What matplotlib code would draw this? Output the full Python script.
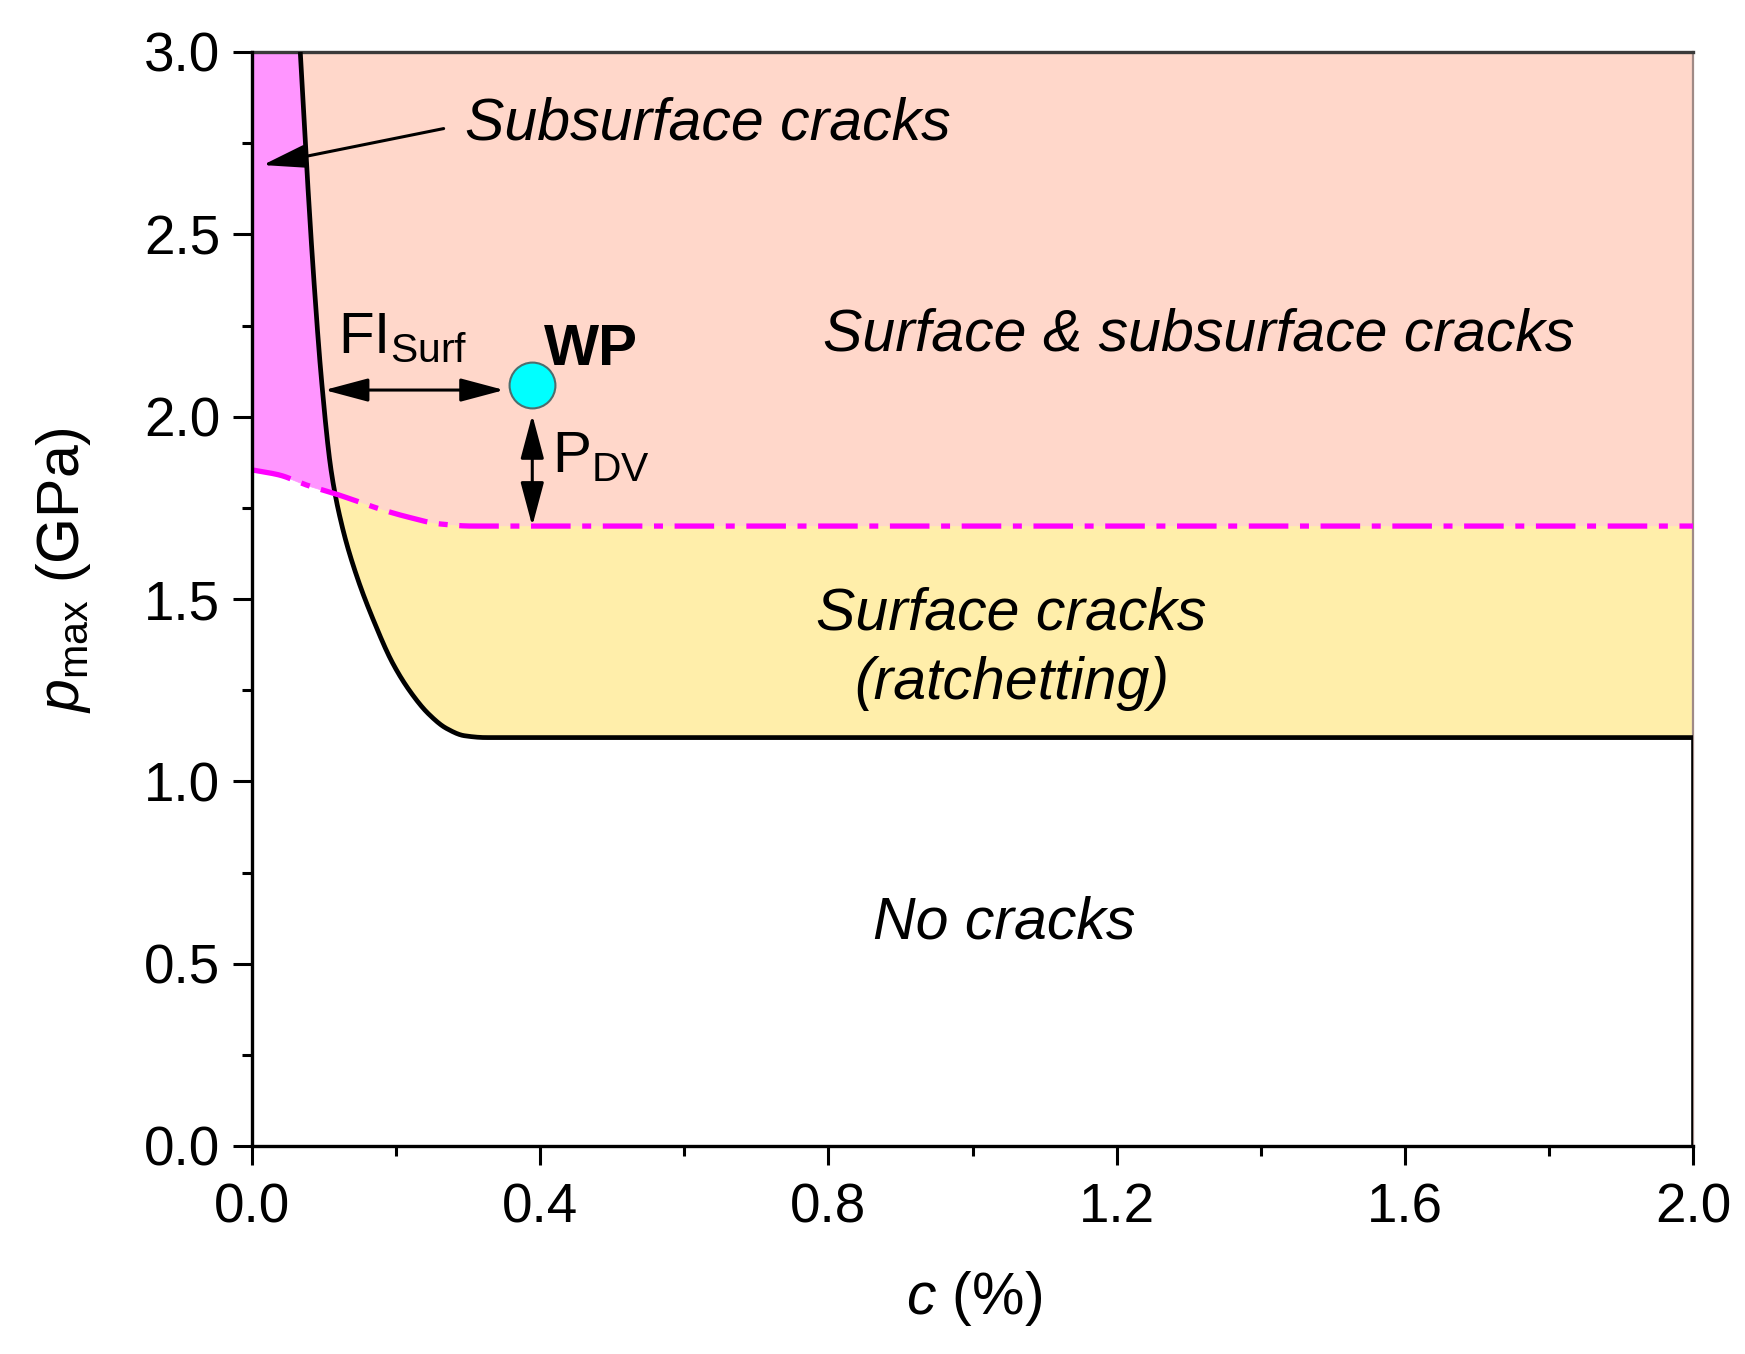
import numpy as np
import matplotlib
matplotlib.use("Agg")
import matplotlib.pyplot as plt
from matplotlib.ticker import MultipleLocator

plt.rcParams['font.family'] = ['Liberation Sans', 'DejaVu Sans']
plt.rcParams['mathtext.fontset'] = 'custom'
plt.rcParams['mathtext.rm'] = 'Liberation Sans'
plt.rcParams['mathtext.it'] = 'Liberation Sans:italic'
plt.rcParams['mathtext.bf'] = 'Liberation Sans:bold'

# ---------------- data ----------------
# black boundary (onset of surface cracks), c (%) vs p_max (GPa)
curve_c = [0.067, 0.0755, 0.085, 0.0965, 0.110, 0.125, 0.145, 0.170,
           0.195, 0.220, 0.245, 0.270, 0.295, 0.325, 2.0]
curve_p = [3.00, 2.70, 2.40, 2.10, 1.85, 1.70, 1.565, 1.435,
           1.325, 1.245, 1.185, 1.145, 1.125, 1.12, 1.12]
# magenta dash-dot boundary (subsurface cracks, Dang Van)
dv_c = [0.0, 0.038, 0.075, 0.121, 0.1676, 0.214, 0.260, 0.306, 2.0]
dv_p = [1.854, 1.840, 1.813, 1.785, 1.753, 1.726, 1.706, 1.70, 1.70]
# working point
wp_c, wp_p = 0.389, 2.087
# FI_Surf arrow (horizontal) and P_DV arrow (vertical)
fi_c = [0.1006, 0.350]
fi_p = 2.073
pdv_p = [2.005, 1.70]
# subsurface arrow
sub_tail = (0.266, 2.79)
sub_tip = (0.0149, 2.69)

region_labels = ['Subsurface cracks', 'Surface & subsurface cracks',
                 'Surface cracks', '(ratchetting)', 'No cracks']
region_pos = [(0.295, 2.759), (1.314, 2.182), (1.054, 1.415), (1.054, 1.226), (1.044, 0.570)]
region_ha = ['left', 'center', 'center', 'center', 'center']

x_ticks = [0.0, 0.4, 0.8, 1.2, 1.6, 2.0]
y_ticks = [0.0, 0.5, 1.0, 1.5, 2.0, 2.5, 3.0]
xlim = (0.0, 2.0)
ylim = (0.0, 3.0)


def pchip(x, y, xn):
    x = np.asarray(x, float); y = np.asarray(y, float)
    h = np.diff(x); d = np.diff(y) / h
    n = len(x)
    m = np.zeros(n)
    for k in range(1, n - 1):
        if d[k - 1] * d[k] <= 0:
            m[k] = 0.0
        else:
            w1 = 2 * h[k] + h[k - 1]
            w2 = h[k] + 2 * h[k - 1]
            m[k] = (w1 + w2) / (w1 / d[k - 1] + w2 / d[k])
    m[0] = d[0]
    m[-1] = d[-1]
    xn = np.asarray(xn, float)
    idx = np.clip(np.searchsorted(x, xn) - 1, 0, n - 2)
    t = (xn - x[idx]) / h[idx]
    h00 = 2 * t**3 - 3 * t**2 + 1
    h10 = t**3 - 2 * t**2 + t
    h01 = -2 * t**3 + 3 * t**2
    h11 = t**3 - t**2
    return h00 * y[idx] + h10 * h[idx] * m[idx] + h01 * y[idx + 1] + h11 * h[idx] * m[idx + 1]


cg = np.linspace(xlim[0], xlim[1], 8001)
p_curve = pchip(curve_c, curve_p, np.clip(cg, curve_c[0], curve_c[-1]))
p_curve = np.where(cg < curve_c[0], ylim[1], np.minimum(p_curve, ylim[1]))
p_dv = pchip(dv_c, dv_p, cg)

fig = plt.figure(figsize=(17.45, 13.54), dpi=100)
ax = fig.add_axes([252 / 1745, 1 - 1146 / 1354, (1693 - 252) / 1745, (1146 - 52) / 1354])

col_mag = '#FF95FF'
col_sal = '#FFD7CA'
col_yel = '#FFEEAA'

ax.fill_between(cg, p_dv, p_curve, where=p_curve >= p_dv, interpolate=True,
                facecolor=col_mag, edgecolor=col_mag, lw=0.5, zorder=1)
ax.fill_between(cg, np.maximum(p_curve, p_dv), ylim[1],
                facecolor=col_sal, edgecolor=col_sal, lw=0.5, zorder=1)
ax.fill_between(cg, p_curve, p_dv, where=p_curve <= p_dv, interpolate=True,
                facecolor=col_yel, edgecolor=col_yel, lw=0.5, zorder=1)

mask = cg >= curve_c[0]
ax.plot(cg[mask], p_curve[mask], color='black', lw=3.4, zorder=3, solid_capstyle='butt')
ax.plot([curve_c[-1], curve_c[-1]], [ylim[0], curve_p[-1]], color='black', lw=2.6, zorder=3)

ax.plot(cg, p_dv, color='#FF00FF', lw=3.8, ls=(0, (7.5, 2.2, 1.7, 2.2)), zorder=3)

ax.plot([wp_c], [wp_p], 'o', ms=33, mfc='#00FFFF', mec='#4d6e6e', mew=1.5, zorder=5)

arrow_kw = dict(arrowstyle='<|-|>,head_length=1.5,head_width=0.4', mutation_scale=18,
                lw=2.2, color='black', shrinkA=0, shrinkB=0)
ax.annotate('', xy=(fi_c[1], fi_p), xytext=(fi_c[0], fi_p), arrowprops=arrow_kw, zorder=4)
ax.annotate('', xy=(wp_c, pdv_p[1]), xytext=(wp_c, pdv_p[0]), arrowprops=arrow_kw, zorder=4)
ax.annotate('', xy=sub_tip, xytext=sub_tail,
            arrowprops=dict(arrowstyle='-|>,head_length=1.5,head_width=0.4', mutation_scale=18,
                            lw=2.2, color='black', shrinkA=0, shrinkB=0), zorder=4)

for lab, (xc, yc), ha in zip(region_labels, region_pos, region_ha):
    ax.text(xc, yc, lab, style='italic', fontsize=42.5, ha=ha, va='baseline', zorder=6)

ax.text(0.120, 2.175, r'FI$_{\mathrm{Surf}}$', fontsize=42, ha='left', va='baseline', zorder=6)
ax.text(0.470, 2.142, 'WP', fontsize=42, fontweight='bold', ha='center', va='baseline', zorder=6)
ax.text(0.417, 1.849, r'P$_{\mathrm{DV}}$', fontsize=42, ha='left', va='baseline', zorder=6)

ax.set_xlim(*xlim)
ax.set_ylim(*ylim)
ax.set_xticks(x_ticks)
ax.set_yticks(y_ticks)
ax.set_xticklabels([f'{v:.1f}' for v in x_ticks])
ax.set_yticklabels([f'{v:.1f}' for v in y_ticks])
ax.xaxis.set_minor_locator(MultipleLocator(0.2))
ax.yaxis.set_minor_locator(MultipleLocator(0.25))
ax.tick_params(which='major', direction='out', length=14, width=2.2, labelsize=39.5, pad=9)
ax.tick_params(axis='x', which='major', pad=12)
ax.tick_params(which='minor', direction='out', length=7, width=2.2)

for s in ['left', 'bottom']:
    ax.spines[s].set_linewidth(2.4)
    ax.spines[s].set_zorder(7)
ax.spines['top'].set_color('#3a3a3a')
ax.spines['top'].set_linewidth(2.4)
ax.spines['right'].set_color('#a08a86')
ax.spines['right'].set_linewidth(1.6)

fig.text(974 / 1745, 1 - 1299 / 1354, r'$c$ (%)', fontsize=42.5, ha='center', va='center')
fig.text(64 / 1745, 1 - 570 / 1354, r'$p_{\mathrm{max}}$ (GPa)', fontsize=42.5,
         ha='center', va='center', rotation=90)

fig.savefig('out.png', dpi=100, facecolor='white')
